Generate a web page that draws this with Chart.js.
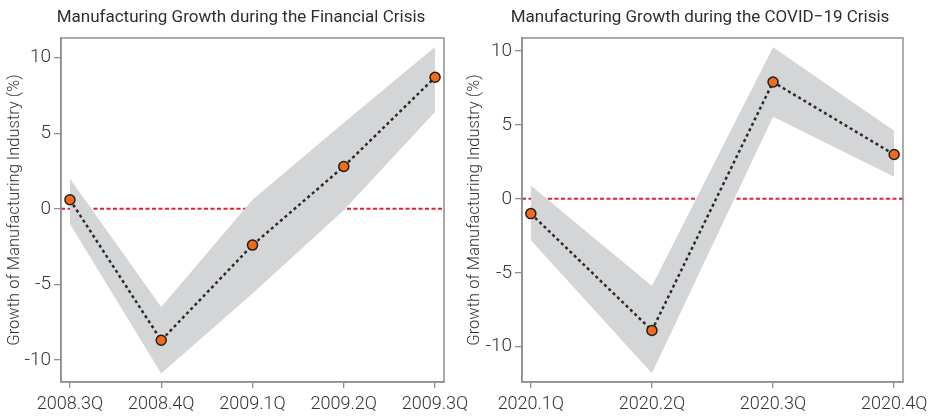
<!DOCTYPE html>
<html>
<head>
<meta charset="utf-8">
<script src="https://cdn.jsdelivr.net/npm/chart.js@4.4.1/dist/chart.umd.min.js"></script>
<style>
  body { margin: 0; background: #fff; }
  #wrap { position: relative; width: 934px; height: 417px; }
  canvas { position: absolute; top: 0; }
  #fin { left: 0; }
  #covid { left: 464px; }
</style>
</head>
<body>
<div id="wrap">
  <canvas id="fin" width="482" height="417"></canvas>
  <canvas id="covid" width="470" height="417"></canvas>
</div>
<script>
  // data
  const finQuarters = ['2008.3Q', '2008.4Q', '2009.1Q', '2009.2Q', '2009.3Q'];
  const finGrowth = [0.6, -8.7, -2.4, 2.8, 8.7];
  const finUpper = [2.0, -6.5, 0.6, 5.7, 10.7];
  const finLower = [-1.0, -10.9, -5.6, -0.1, 6.4];

  const covidQuarters = ['2020.1Q', '2020.2Q', '2020.3Q', '2020.4Q'];
  const covidGrowth = [-1.0, -8.9, 7.9, 3.0];
  const covidUpper = [0.9, -5.9, 10.25, 4.6];
  const covidLower = [-2.8, -11.8, 5.55, 1.5];

  const yTicks = [-10, -5, 0, 5, 10];
  const yTitle = 'Growth of Manufacturing Industry (%)';

  const FONT = "Roboto, 'Noto Sans', sans-serif";
  const TEXT = '#333333';
  const AXIS = '#8f8f8f';

  // zero reference line, plot frame and the panel title
  const framePlugin = {
    id: 'frame',
    beforeDatasetsDraw(chart) {
      const { ctx, chartArea: a, scales } = chart;
      const y0 = scales.y.getPixelForValue(0);
      ctx.save();
      ctx.strokeStyle = '#e4202a';
      ctx.lineWidth = 2;
      ctx.setLineDash([4, 2.5]);
      ctx.beginPath();
      ctx.moveTo(a.left, y0);
      ctx.lineTo(a.right, y0);
      ctx.stroke();
      ctx.restore();
    },
    afterDatasetsDraw(chart) {
      const { ctx, chartArea: a } = chart;
      ctx.save();
      ctx.strokeStyle = AXIS;
      ctx.lineWidth = 1.5;
      ctx.strokeRect(a.left, a.top, a.right - a.left, a.bottom - a.top);
      ctx.restore();
    },
    afterDraw(chart, args, opts) {
      const { ctx } = chart;
      ctx.save();
      ctx.fillStyle = '#2e2e2e';
      ctx.font = `400 17px ${FONT}`;
      ctx.textAlign = 'center';
      ctx.textBaseline = 'middle';
      ctx.fillText(opts.text, opts.x, 17.5);
      ctx.restore();
    }
  };

  function toPoints(values) {
    return values.map((v, i) => ({ x: i, y: v }));
  }

  function makeChart(id, opts) {
    const labels = opts.labels;
    return new Chart(document.getElementById(id), {
      type: 'line',
      data: {
        datasets: [
          {
            data: toPoints(opts.growth),
            borderColor: '#2b2b2b',
            borderWidth: 2.5,
            borderDash: [3, 3],
            pointRadius: 5,
            pointBackgroundColor: '#f26a1c',
            pointBorderColor: '#1e1e1e',
            pointBorderWidth: 1.5,
            fill: false,
            order: 0
          },
          {
            data: toPoints(opts.upper),
            borderWidth: 0,
            pointRadius: 0,
            backgroundColor: '#d4d5d7',
            fill: '+1',
            order: 1
          },
          {
            data: toPoints(opts.lower),
            borderWidth: 0,
            pointRadius: 0,
            fill: false,
            order: 2
          }
        ]
      },
      options: {
        responsive: false,
        animation: false,
        devicePixelRatio: 1,
        layout: { padding: { left: 0, right: opts.padRight, top: 38, bottom: 0 } },
        plugins: {
          legend: { display: false },
          tooltip: { enabled: false },
          title: { display: false },
          frame: { text: opts.title, x: opts.titleX }
        },
        scales: {
          x: {
            type: 'linear',
            min: -opts.xPad,
            max: labels.length - 1 + opts.xPad,
            afterBuildTicks: (s) => { s.ticks = labels.map((_, i) => ({ value: i })); },
            afterFit: (s) => { s.height = 35; },
            ticks: {
              color: TEXT,
              font: { family: FONT, size: 18, weight: '300' },
              padding: 6,
              maxRotation: 0,
              callback: (v) => labels[v]
            },
            grid: { drawOnChartArea: false, color: AXIS, lineWidth: 1.3, tickLength: 6 },
            border: { color: AXIS, width: 1.5 }
          },
          y: {
            min: opts.yMin,
            max: opts.yMax,
            afterBuildTicks: (s) => { s.ticks = yTicks.map((v) => ({ value: v })); },
            afterFit: (s) => { s.width = opts.yWidth; },
            ticks: {
              color: TEXT,
              font: { family: FONT, size: 19, weight: '300' },
              padding: 3
            },
            title: {
              display: true,
              text: yTitle,
              color: TEXT,
              font: { family: FONT, size: 16.5, weight: '300' },
              padding: { top: opts.titlePad, bottom: 0 }
            },
            grid: { drawOnChartArea: false, color: AXIS, lineWidth: 1.3, tickLength: 7 },
            border: { color: AXIS, width: 1.5 }
          }
        }
      },
      plugins: [framePlugin]
    });
  }

  makeChart('fin', {
    title: 'Manufacturing Growth during the Financial Crisis',
    titleX: 241,
    labels: finQuarters,
    growth: finGrowth,
    upper: finUpper,
    lower: finLower,
    xPad: 0.098,
    yMin: -11.46,
    yMax: 11.3,
    yWidth: 61,
    padRight: 38,
    titlePad: 5
  });

  makeChart('covid', {
    title: 'Manufacturing Growth during the COVID\u221219 Crisis',
    titleX: 236,
    labels: covidQuarters,
    growth: covidGrowth,
    upper: covidUpper,
    lower: covidLower,
    xPad: 0.073,
    yMin: -12.39,
    yMax: 10.88,
    yWidth: 58,
    padRight: 28,
    titlePad: 1
  });
</script>
</body>
</html>
